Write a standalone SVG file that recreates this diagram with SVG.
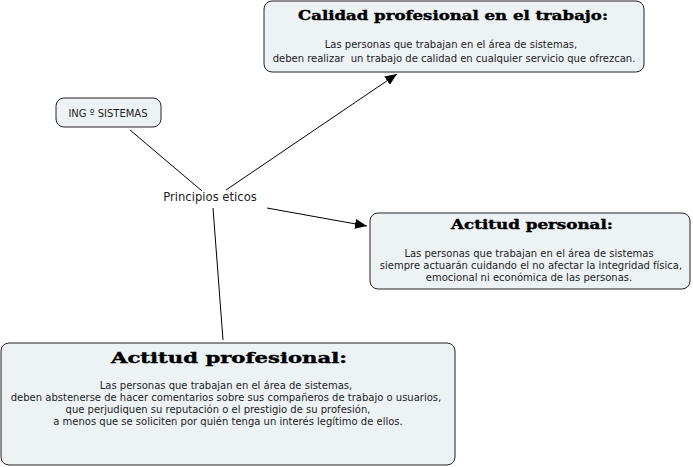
<svg xmlns="http://www.w3.org/2000/svg" width="693" height="467" viewBox="0 0 693 467">
  <style>
    .box { fill: #edf3f5; stroke: #222; stroke-width: 1; }
    .body { font-family: "DejaVu Sans", Verdana, sans-serif; font-size: 10px; fill: #222; text-anchor: middle; white-space: pre; }
    .title { font-family: "DejaVu Serif", serif; font-weight: bold; fill: #000; stroke: #000; stroke-width: 0.4; text-anchor: middle; }
    .link { stroke: #000; stroke-width: 1; fill: none; }
  </style>
  <defs>
    <marker id="arrow" markerUnits="userSpaceOnUse" markerWidth="13" markerHeight="11" refX="12" refY="5" orient="auto">
      <path d="M0,0 L12,5 L0,10 z" fill="#000"/>
    </marker>
  </defs>
  <rect width="693" height="467" fill="#fff"/>

  <g id="connectors">
    <line class="link" x1="130" y1="130" x2="202" y2="191"/>
    <line class="link" x1="226" y1="190" x2="397" y2="74" marker-end="url(#arrow)"/>
    <line class="link" x1="267" y1="208" x2="367" y2="226" marker-end="url(#arrow)"/>
    <line class="link" x1="213" y1="208" x2="223" y2="340"/>
  </g>

  <g id="calidad">
    <rect class="box" x="264" y="1" width="380" height="71" rx="8"/>
    <text class="title" x="453" y="20" font-size="13" textLength="310" lengthAdjust="spacingAndGlyphs">Calidad profesional en el trabajo:</text>
    <text class="body" x="451" y="48">Las personas que trabajan en el área de sistemas,</text>
    <text class="body" x="454" y="62" xml:space="preserve">deben realizar&#160; un trabajo de calidad en cualquier servicio que ofrezcan.</text>
  </g>

  <g id="ing">
    <rect class="box" x="56" y="98" width="105" height="29" rx="8"/>
    <text class="body" x="108" y="117" font-size="10.5">ING º SISTEMAS</text>
  </g>

  <g id="principios">
    <text x="210" y="201" font-family="DejaVu Sans, sans-serif" font-size="11.6" fill="#222" text-anchor="middle">Principios eticos</text>
  </g>

  <g id="personal">
    <rect class="box" x="370" y="213" width="320" height="76" rx="8"/>
    <text class="title" x="532" y="229" font-size="13" textLength="162" lengthAdjust="spacingAndGlyphs">Actitud personal:</text>
    <text class="body" x="529" y="257">Las personas que trabajan en el área de sistemas</text>
    <text class="body" x="531" y="269">siempre actuarán cuidando el no afectar la integridad física,</text>
    <text class="body" x="529" y="281">emocional ni económica de las personas.</text>
  </g>

  <g id="profesional">
    <rect class="box" x="1" y="343" width="454" height="122" rx="8"/>
    <text class="title" x="229" y="363" font-size="15" textLength="236" lengthAdjust="spacingAndGlyphs">Actitud profesional:</text>
    <text class="body" x="226" y="389">Las personas que trabajan en el área de sistemas,</text>
    <text class="body" x="226" y="401">deben abstenerse de hacer comentarios sobre sus compañeros de trabajo o usuarios,</text>
    <text class="body" x="218" y="413">que perjudiquen su reputación o el prestigio de su profesión,</text>
    <text class="body" x="228" y="425">a menos que se soliciten por quién tenga un interés legítimo de ellos.</text>
  </g>
</svg>
